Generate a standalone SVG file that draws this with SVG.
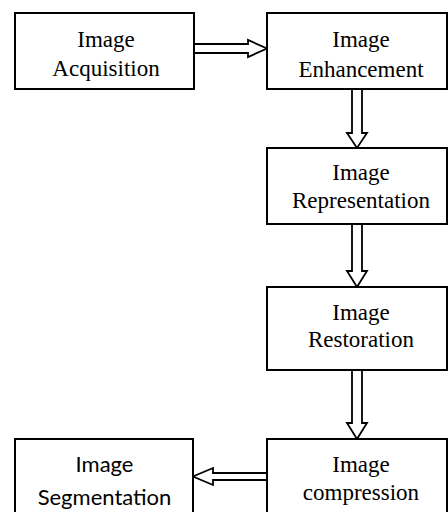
<svg xmlns="http://www.w3.org/2000/svg" width="448" height="512" viewBox="0 0 448 512">
<style>
.box{fill:#fff;stroke:#000;stroke-width:2}
.arr{fill:#fff;stroke:#000;stroke-width:1.8;stroke-linejoin:miter}
.t{font-family:'Liberation Serif','Times New Roman','DejaVu Serif',serif;font-size:23px;fill:#000;text-anchor:middle}
.c{font-family:Lato,'Open Sans','Liberation Sans',sans-serif;font-size:22px;fill:#000;text-anchor:middle}
</style>
<rect width="448" height="512" fill="#fff"/>
<g id="connectors">
<path class="arr" d="M194,44 H248 V40 L267,48.5 L248,57 V53 H194"/>
<path class="arr" d="M352,89 V133 H347 L357,148 L367,133 H362 V89"/>
<path class="arr" d="M352,224 V271 H347 L357,287 L367,271 H362 V224"/>
<path class="arr" d="M352,370 V423 H347 L357,439 L367,423 H362 V370"/>
<path class="arr" d="M267,473 H213 V468 L193,476.5 L213,485 V480 H267"/>
</g>
<g id="acquisition">
<rect class="box" x="15" y="13" width="179" height="76"/>
<text class="t" x="106" y="47" font-family="Liberation Serif, serif">Image</text>
<text class="t" x="106" y="76" font-family="Liberation Serif, serif">Acquisition</text>
</g>
<g id="enhancement">
<rect class="box" x="267" y="13" width="180" height="76"/>
<text class="t" x="361" y="47">Image</text>
<text class="t" x="361" y="77">Enhancement</text>
</g>
<g id="representation">
<rect class="box" x="267" y="148" width="180" height="76"/>
<text class="t" x="361" y="180">Image</text>
<text class="t" x="361" y="208">Representation</text>
</g>
<g id="restoration">
<rect class="box" x="267" y="287" width="180" height="83"/>
<text class="t" x="361" y="320">Image</text>
<text class="t" x="361" y="347">Restoration</text>
</g>
<g id="compression">
<rect class="box" x="267" y="439" width="180" height="90"/>
<text class="t" x="361" y="472">Image</text>
<text class="t" x="361" y="500">compression</text>
</g>
<g id="segmentation">
<rect class="box" x="15" y="439" width="178" height="90"/>
<text class="c" x="104.5" y="472">Image</text>
<text class="c" x="104.5" y="505">Segmentation</text>
</g>
</svg>
